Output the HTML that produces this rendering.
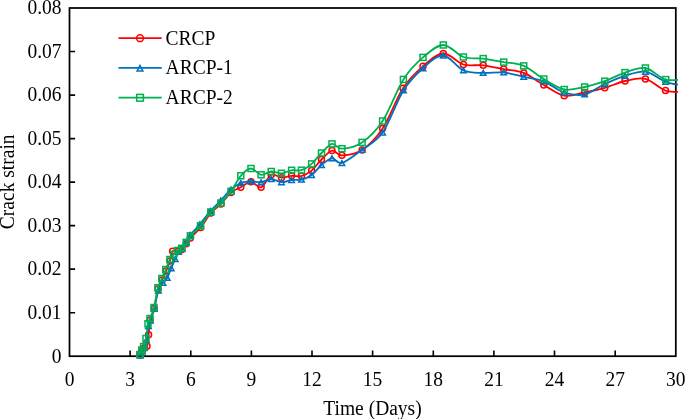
<!DOCTYPE html>
<html><head><meta charset="utf-8"><style>
html,body{margin:0;padding:0;background:#fff;width:685px;height:419px;overflow:hidden}
svg{display:block;font-family:"Liberation Serif",serif}
text{filter:grayscale(1)}
</style></head><body>
<svg width="685" height="419" viewBox="0 0 685 419">
<defs><clipPath id="c"><rect x="60" y="0" width="618" height="370"/></clipPath></defs>
<rect x="69.5" y="8" width="606.3" height="348.2" fill="none" stroke="#000" stroke-width="1.75"/>
<path d="M130.1,356.2V350.4M190.8,356.2V350.4M251.4,356.2V350.4M312.0,356.2V350.4M372.6,356.2V350.4M433.3,356.2V350.4M493.9,356.2V350.4M554.5,356.2V350.4M615.2,356.2V350.4M69.5,312.7H75.1M69.5,269.1H75.1M69.5,225.6H75.1M69.5,182.1H75.1M69.5,138.6H75.1M69.5,95.1H75.1M69.5,51.5H75.1" stroke="#000" stroke-width="1.6" fill="none"/>
<g font-family="Liberation Serif" font-size="19.5" fill="#000"><text transform="translate(69.5,386) scale(1,1.065)" text-anchor="middle">0</text><text transform="translate(130.1,386) scale(1,1.065)" text-anchor="middle">3</text><text transform="translate(190.8,386) scale(1,1.065)" text-anchor="middle">6</text><text transform="translate(251.4,386) scale(1,1.065)" text-anchor="middle">9</text><text transform="translate(312.0,386) scale(1,1.065)" text-anchor="middle">12</text><text transform="translate(372.6,386) scale(1,1.065)" text-anchor="middle">15</text><text transform="translate(433.3,386) scale(1,1.065)" text-anchor="middle">18</text><text transform="translate(493.9,386) scale(1,1.065)" text-anchor="middle">21</text><text transform="translate(554.5,386) scale(1,1.065)" text-anchor="middle">24</text><text transform="translate(615.2,386) scale(1,1.065)" text-anchor="middle">27</text><text transform="translate(675.8,386) scale(1,1.065)" text-anchor="middle">30</text><text transform="translate(61.5,362.5) scale(1,1.065)" text-anchor="end">0</text><text transform="translate(61.5,319.0) scale(1,1.065)" text-anchor="end">0.01</text><text transform="translate(61.5,275.4) scale(1,1.065)" text-anchor="end">0.02</text><text transform="translate(61.5,231.9) scale(1,1.065)" text-anchor="end">0.03</text><text transform="translate(61.5,188.4) scale(1,1.065)" text-anchor="end">0.04</text><text transform="translate(61.5,144.9) scale(1,1.065)" text-anchor="end">0.05</text><text transform="translate(61.5,101.4) scale(1,1.065)" text-anchor="end">0.06</text><text transform="translate(61.5,57.8) scale(1,1.065)" text-anchor="end">0.07</text><text transform="translate(61.5,14.3) scale(1,1.065)" text-anchor="end">0.08</text></g>
<text transform="translate(372.5,415) scale(1,1.065)" text-anchor="middle" font-family="Liberation Serif" font-size="19.5">Time (Days)</text>
<text transform="translate(14.2,181.8) rotate(-90) scale(1,1.065)" text-anchor="middle" font-family="Liberation Serif" font-size="19.5">Crack strain</text>
<g clip-path="url(#c)"><path d="M140.3,355.0 C140.6,354.3 141.5,352.2 142.2,351.0 C142.9,349.8 143.6,348.6 144.4,347.8 C145.2,347.0 146.3,348.5 147.0,346.3 C147.7,344.1 148.1,339.2 148.6,334.8 C149.1,330.4 149.3,324.4 150.2,320.0 C151.1,315.6 152.9,313.7 154.2,308.5 C155.5,303.3 156.7,293.8 158.0,289.0 C159.3,284.2 160.7,283.0 162.0,280.0 C163.3,277.0 164.7,274.2 166.0,271.0 C167.3,267.8 168.9,264.3 170.0,261.0 C171.1,257.7 171.3,252.8 172.6,251.2 C173.9,249.6 176.2,251.8 177.8,251.5 C179.4,251.2 180.5,250.8 181.9,249.5 C183.3,248.2 184.8,245.7 186.2,243.8 C187.6,241.9 188.0,240.7 190.4,238.0 C192.8,235.3 197.3,231.7 200.7,227.5 C204.1,223.3 207.5,216.9 210.9,213.0 C214.3,209.1 217.7,207.4 221.0,204.0 C224.3,200.6 227.7,195.3 231.0,192.5 C234.3,189.7 237.5,189.0 240.8,187.2 C244.1,185.4 247.6,181.8 251.0,181.8 C254.4,181.8 257.7,188.5 261.1,187.3 C264.5,186.1 267.8,176.4 271.2,174.8 C274.6,173.2 278.1,177.5 281.5,177.7 C284.9,177.9 288.3,176.1 291.6,175.8 C294.9,175.5 298.2,176.9 301.5,176.0 C304.8,175.1 308.3,173.3 311.6,170.6 C314.9,167.8 318.1,162.8 321.5,159.5 C324.9,156.2 328.6,151.3 332.0,150.6 C335.4,149.9 336.9,155.4 341.9,155.3 C346.9,155.2 355.3,154.4 362.1,150.0 C368.9,145.6 375.8,138.9 382.6,128.6 C389.4,118.3 396.3,98.6 403.0,88.2 C409.7,77.8 416.3,72.1 423.0,66.3 C429.7,60.5 436.6,53.8 443.3,53.5 C450.0,53.2 456.8,62.5 463.4,64.5 C470.0,66.5 476.5,64.5 483.2,65.3 C489.9,66.1 496.9,67.8 503.7,69.1 C510.4,70.4 517.0,70.2 523.7,72.9 C530.4,75.6 537.0,81.2 543.8,85.0 C550.5,88.8 557.4,94.5 564.2,95.7 C571.0,97.0 577.8,93.8 584.6,92.5 C591.4,91.2 598.1,89.7 604.8,87.8 C611.5,85.9 618.2,82.5 625.0,81.0 C631.8,79.5 638.6,77.3 645.4,78.9 C652.1,80.5 658.7,88.4 665.5,90.6 C672.3,92.8 682.6,91.6 686.0,91.8" fill="none" stroke="#ff0000" stroke-width="1.8"/><g fill="none" stroke="#ff0000" stroke-width="1.5"><circle cx="140.3" cy="355.0" r="3.0"/><circle cx="142.2" cy="351.0" r="3.0"/><circle cx="144.4" cy="347.8" r="3.0"/><circle cx="147.0" cy="346.3" r="3.0"/><circle cx="148.6" cy="334.8" r="3.0"/><circle cx="150.2" cy="320.0" r="3.0"/><circle cx="154.2" cy="308.5" r="3.0"/><circle cx="158.0" cy="289.0" r="3.0"/><circle cx="162.0" cy="280.0" r="3.0"/><circle cx="166.0" cy="271.0" r="3.0"/><circle cx="170.0" cy="261.0" r="3.0"/><circle cx="172.6" cy="251.2" r="3.0"/><circle cx="177.8" cy="251.5" r="3.0"/><circle cx="181.9" cy="249.5" r="3.0"/><circle cx="186.2" cy="243.8" r="3.0"/><circle cx="190.4" cy="238.0" r="3.0"/><circle cx="200.7" cy="227.5" r="3.0"/><circle cx="210.9" cy="213.0" r="3.0"/><circle cx="221.0" cy="204.0" r="3.0"/><circle cx="231.0" cy="192.5" r="3.0"/><circle cx="240.8" cy="187.2" r="3.0"/><circle cx="251.0" cy="181.8" r="3.0"/><circle cx="261.1" cy="187.3" r="3.0"/><circle cx="271.2" cy="174.8" r="3.0"/><circle cx="281.5" cy="177.7" r="3.0"/><circle cx="291.6" cy="175.8" r="3.0"/><circle cx="301.5" cy="176.0" r="3.0"/><circle cx="311.6" cy="170.6" r="3.0"/><circle cx="321.5" cy="159.5" r="3.0"/><circle cx="332.0" cy="150.6" r="3.0"/><circle cx="341.9" cy="155.3" r="3.0"/><circle cx="362.1" cy="150.0" r="3.0"/><circle cx="382.6" cy="128.6" r="3.0"/><circle cx="403.0" cy="88.2" r="3.0"/><circle cx="423.0" cy="66.3" r="3.0"/><circle cx="443.3" cy="53.5" r="3.0"/><circle cx="463.4" cy="64.5" r="3.0"/><circle cx="483.2" cy="65.3" r="3.0"/><circle cx="503.7" cy="69.1" r="3.0"/><circle cx="523.7" cy="72.9" r="3.0"/><circle cx="543.8" cy="85.0" r="3.0"/><circle cx="564.2" cy="95.7" r="3.0"/><circle cx="584.6" cy="92.5" r="3.0"/><circle cx="604.8" cy="87.8" r="3.0"/><circle cx="625.0" cy="81.0" r="3.0"/><circle cx="645.4" cy="78.9" r="3.0"/><circle cx="665.5" cy="90.6" r="3.0"/></g></g>
<g clip-path="url(#c)"><path d="M140.3,355.5 C140.6,354.8 141.7,352.8 142.3,351.5 C142.9,350.2 143.4,349.9 144.1,348.0 C144.8,346.1 145.8,343.7 146.5,340.0 C147.2,336.3 147.8,329.2 148.4,326.0 C149.1,322.8 149.4,323.4 150.4,320.5 C151.4,317.6 152.9,313.8 154.2,308.8 C155.5,303.8 156.9,294.8 158.4,290.5 C159.9,286.2 161.5,284.9 163.0,282.8 C164.5,280.7 165.8,280.2 167.2,277.8 C168.6,275.4 169.9,271.4 171.2,268.3 C172.5,265.2 174.0,261.8 175.2,259.0 C176.4,256.2 177.4,253.5 178.6,251.8 C179.8,250.1 180.9,250.4 182.2,248.8 C183.5,247.2 184.8,244.5 186.2,242.2 C187.5,239.9 188.0,238.0 190.3,235.0 C192.6,232.0 196.6,228.3 199.9,224.3 C203.2,220.3 206.9,215.0 210.4,211.0 C213.9,207.0 217.4,204.1 220.8,200.5 C224.2,196.9 227.7,192.4 231.0,189.5 C234.3,186.6 237.5,184.4 240.8,183.0 C244.1,181.6 247.6,181.4 251.0,181.3 C254.4,181.2 257.7,182.6 261.1,182.2 C264.5,181.8 267.8,179.0 271.2,179.0 C274.6,179.0 278.1,182.0 281.5,182.2 C284.9,182.4 288.3,180.4 291.6,180.0 C294.9,179.6 298.2,180.4 301.5,179.6 C304.8,178.8 308.3,177.4 311.6,175.0 C314.9,172.6 318.1,167.8 321.5,165.0 C324.9,162.2 328.6,158.6 332.0,158.3 C335.4,158.0 336.9,164.4 341.9,163.0 C346.9,161.6 355.3,154.8 362.1,149.7 C368.9,144.6 375.7,142.5 382.6,132.6 C389.5,122.7 396.7,101.1 403.4,90.4 C410.1,79.7 416.4,74.0 423.0,68.2 C429.6,62.4 436.6,55.1 443.3,55.5 C450.0,55.9 456.8,67.5 463.4,70.4 C470.0,73.3 476.5,72.6 483.2,72.9 C489.9,73.2 496.9,71.8 503.7,72.4 C510.4,73.1 517.0,75.3 523.7,76.8 C530.4,78.3 537.0,78.7 543.8,81.3 C550.5,83.9 557.4,90.3 564.2,92.5 C571.0,94.7 577.8,95.8 584.6,94.4 C591.4,93.0 598.1,87.1 604.8,84.0 C611.5,80.9 618.2,77.8 625.0,75.8 C631.8,73.8 638.6,70.7 645.4,71.7 C652.2,72.7 658.9,79.4 665.7,81.8 C672.5,84.2 682.6,85.3 686.0,86.0" fill="none" stroke="#0070c0" stroke-width="1.8"/><g fill="none" stroke="#0070c0" stroke-width="1.5"><path d="M140.30,353.05 L143.05,357.95 L137.55,357.95 Z"/><path d="M142.30,349.05 L145.05,353.95 L139.55,353.95 Z"/><path d="M144.10,345.55 L146.85,350.45 L141.35,350.45 Z"/><path d="M146.50,337.55 L149.25,342.45 L143.75,342.45 Z"/><path d="M148.40,323.55 L151.15,328.45 L145.65,328.45 Z"/><path d="M150.40,318.05 L153.15,322.95 L147.65,322.95 Z"/><path d="M154.20,306.35 L156.95,311.25 L151.45,311.25 Z"/><path d="M158.40,288.05 L161.15,292.95 L155.65,292.95 Z"/><path d="M163.00,280.35 L165.75,285.25 L160.25,285.25 Z"/><path d="M167.20,275.35 L169.95,280.25 L164.45,280.25 Z"/><path d="M171.20,265.85 L173.95,270.75 L168.45,270.75 Z"/><path d="M175.20,256.55 L177.95,261.45 L172.45,261.45 Z"/><path d="M178.60,249.35 L181.35,254.25 L175.85,254.25 Z"/><path d="M182.20,246.35 L184.95,251.25 L179.45,251.25 Z"/><path d="M186.20,239.75 L188.95,244.65 L183.45,244.65 Z"/><path d="M190.30,232.55 L193.05,237.45 L187.55,237.45 Z"/><path d="M199.90,221.85 L202.65,226.75 L197.15,226.75 Z"/><path d="M210.40,208.55 L213.15,213.45 L207.65,213.45 Z"/><path d="M220.80,198.05 L223.55,202.95 L218.05,202.95 Z"/><path d="M231.00,187.05 L233.75,191.95 L228.25,191.95 Z"/><path d="M240.80,180.55 L243.55,185.45 L238.05,185.45 Z"/><path d="M251.00,178.85 L253.75,183.75 L248.25,183.75 Z"/><path d="M261.10,179.75 L263.85,184.65 L258.35,184.65 Z"/><path d="M271.20,176.55 L273.95,181.45 L268.45,181.45 Z"/><path d="M281.50,179.75 L284.25,184.65 L278.75,184.65 Z"/><path d="M291.60,177.55 L294.35,182.45 L288.85,182.45 Z"/><path d="M301.50,177.15 L304.25,182.05 L298.75,182.05 Z"/><path d="M311.60,172.55 L314.35,177.45 L308.85,177.45 Z"/><path d="M321.50,162.55 L324.25,167.45 L318.75,167.45 Z"/><path d="M332.00,155.85 L334.75,160.75 L329.25,160.75 Z"/><path d="M341.90,160.55 L344.65,165.45 L339.15,165.45 Z"/><path d="M362.10,147.25 L364.85,152.15 L359.35,152.15 Z"/><path d="M382.60,130.15 L385.35,135.05 L379.85,135.05 Z"/><path d="M403.40,87.95 L406.15,92.85 L400.65,92.85 Z"/><path d="M423.00,65.75 L425.75,70.65 L420.25,70.65 Z"/><path d="M443.30,53.05 L446.05,57.95 L440.55,57.95 Z"/><path d="M463.40,67.95 L466.15,72.85 L460.65,72.85 Z"/><path d="M483.20,70.45 L485.95,75.35 L480.45,75.35 Z"/><path d="M503.70,69.95 L506.45,74.85 L500.95,74.85 Z"/><path d="M523.70,74.35 L526.45,79.25 L520.95,79.25 Z"/><path d="M543.80,78.85 L546.55,83.75 L541.05,83.75 Z"/><path d="M564.20,90.05 L566.95,94.95 L561.45,94.95 Z"/><path d="M584.60,91.95 L587.35,96.85 L581.85,96.85 Z"/><path d="M604.80,81.55 L607.55,86.45 L602.05,86.45 Z"/><path d="M625.00,73.35 L627.75,78.25 L622.25,78.25 Z"/><path d="M645.40,69.25 L648.15,74.15 L642.65,74.15 Z"/><path d="M665.70,79.35 L668.45,84.25 L662.95,84.25 Z"/></g></g>
<g clip-path="url(#c)"><path d="M139.8,354.5 C140.1,353.8 141.2,351.3 141.8,350.0 C142.4,348.7 142.9,348.4 143.6,346.5 C144.3,344.6 145.3,342.3 146.0,338.5 C146.7,334.7 147.3,327.1 148.0,323.8 C148.7,320.5 149.0,321.2 150.0,318.5 C151.0,315.8 152.7,312.6 154.0,307.5 C155.3,302.4 156.6,292.5 157.9,287.7 C159.2,282.9 160.5,281.5 161.8,278.5 C163.1,275.5 164.5,272.7 165.8,269.5 C167.2,266.3 168.6,262.0 169.9,259.5 C171.2,257.0 172.4,256.0 173.7,254.5 C175.0,253.0 176.3,251.5 177.6,250.5 C178.9,249.5 180.2,249.7 181.6,248.3 C183.0,247.0 184.7,244.5 186.2,242.4 C187.7,240.3 188.0,238.6 190.4,235.8 C192.8,233.0 197.1,229.8 200.5,225.8 C203.9,221.8 207.4,215.8 210.8,212.0 C214.2,208.2 217.5,206.4 220.9,203.0 C224.3,199.6 227.7,195.8 231.0,191.3 C234.3,186.8 237.5,179.6 240.8,175.8 C244.1,172.0 247.6,168.7 251.0,168.5 C254.4,168.3 257.7,174.3 261.1,174.8 C264.5,175.3 267.8,171.8 271.2,171.5 C274.6,171.2 278.1,173.5 281.5,173.3 C284.9,173.1 288.3,170.8 291.6,170.3 C294.9,169.8 298.2,171.3 301.5,170.2 C304.8,169.1 308.3,166.8 311.6,163.9 C314.9,161.0 318.1,156.3 321.5,153.0 C324.9,149.7 328.6,144.6 332.0,143.9 C335.4,143.2 336.9,148.9 341.9,148.7 C346.9,148.4 355.3,147.0 362.1,142.4 C368.9,137.8 375.7,131.5 382.6,121.0 C389.5,110.5 396.7,90.0 403.4,79.4 C410.1,68.8 416.4,63.1 423.0,57.4 C429.6,51.7 436.6,45.1 443.3,45.0 C450.0,44.9 456.8,54.7 463.4,57.0 C470.0,59.3 476.5,57.8 483.2,58.6 C489.9,59.5 496.9,60.9 503.7,62.1 C510.4,63.3 517.0,63.1 523.7,65.9 C530.4,68.7 537.0,75.1 543.8,79.0 C550.5,82.9 557.4,88.2 564.2,89.5 C571.0,90.8 577.8,88.4 584.6,87.0 C591.4,85.6 598.1,83.6 604.8,81.2 C611.5,78.8 618.2,74.8 625.0,72.6 C631.8,70.4 638.6,66.8 645.4,68.0 C652.2,69.2 658.9,77.8 665.7,79.6 C672.5,81.4 682.6,78.9 686.0,78.8" fill="none" stroke="#00b050" stroke-width="1.8"/><g fill="none" stroke="#00b050" stroke-width="1.5"><rect x="136.8" y="351.5" width="6.0" height="6.0"/><rect x="138.8" y="347.0" width="6.0" height="6.0"/><rect x="140.6" y="343.5" width="6.0" height="6.0"/><rect x="143.0" y="335.5" width="6.0" height="6.0"/><rect x="145.0" y="320.8" width="6.0" height="6.0"/><rect x="147.0" y="315.5" width="6.0" height="6.0"/><rect x="151.0" y="304.5" width="6.0" height="6.0"/><rect x="154.9" y="284.7" width="6.0" height="6.0"/><rect x="158.8" y="275.5" width="6.0" height="6.0"/><rect x="162.8" y="266.5" width="6.0" height="6.0"/><rect x="166.9" y="256.5" width="6.0" height="6.0"/><rect x="170.7" y="251.5" width="6.0" height="6.0"/><rect x="174.6" y="247.5" width="6.0" height="6.0"/><rect x="178.6" y="245.3" width="6.0" height="6.0"/><rect x="183.2" y="239.4" width="6.0" height="6.0"/><rect x="187.4" y="232.8" width="6.0" height="6.0"/><rect x="197.5" y="222.8" width="6.0" height="6.0"/><rect x="207.8" y="209.0" width="6.0" height="6.0"/><rect x="217.9" y="200.0" width="6.0" height="6.0"/><rect x="228.0" y="188.3" width="6.0" height="6.0"/><rect x="237.8" y="172.8" width="6.0" height="6.0"/><rect x="248.0" y="165.5" width="6.0" height="6.0"/><rect x="258.1" y="171.8" width="6.0" height="6.0"/><rect x="268.2" y="168.5" width="6.0" height="6.0"/><rect x="278.5" y="170.3" width="6.0" height="6.0"/><rect x="288.6" y="167.3" width="6.0" height="6.0"/><rect x="298.5" y="167.2" width="6.0" height="6.0"/><rect x="308.6" y="160.9" width="6.0" height="6.0"/><rect x="318.5" y="150.0" width="6.0" height="6.0"/><rect x="329.0" y="140.9" width="6.0" height="6.0"/><rect x="338.9" y="145.7" width="6.0" height="6.0"/><rect x="359.1" y="139.4" width="6.0" height="6.0"/><rect x="379.6" y="118.0" width="6.0" height="6.0"/><rect x="400.4" y="76.4" width="6.0" height="6.0"/><rect x="420.0" y="54.4" width="6.0" height="6.0"/><rect x="440.3" y="42.0" width="6.0" height="6.0"/><rect x="460.4" y="54.0" width="6.0" height="6.0"/><rect x="480.2" y="55.6" width="6.0" height="6.0"/><rect x="500.7" y="59.1" width="6.0" height="6.0"/><rect x="520.7" y="62.9" width="6.0" height="6.0"/><rect x="540.8" y="76.0" width="6.0" height="6.0"/><rect x="561.2" y="86.5" width="6.0" height="6.0"/><rect x="581.6" y="84.0" width="6.0" height="6.0"/><rect x="601.8" y="78.2" width="6.0" height="6.0"/><rect x="622.0" y="69.6" width="6.0" height="6.0"/><rect x="642.4" y="65.0" width="6.0" height="6.0"/><rect x="662.7" y="76.6" width="6.0" height="6.0"/></g></g>
<path d="M118.5,38.2H161.7" stroke="#ff0000" stroke-width="1.7"/><g fill="none" stroke="#ff0000" stroke-width="1.5"><circle cx="140.0" cy="38.2" r="3.4"/></g><text transform="translate(165.6,44.7) scale(1,1.065)" font-family="Liberation Serif" font-size="19.5">CRCP</text><path d="M118.5,67.9H161.7" stroke="#0070c0" stroke-width="1.7"/><g fill="none" stroke="#0070c0" stroke-width="1.5"><path d="M140.00,65.50 L142.90,71.10 L137.10,71.10 Z"/></g><text transform="translate(165.6,74.4) scale(1,1.065)" font-family="Liberation Serif" font-size="19.5">ARCP-1</text><path d="M118.5,97.7H161.7" stroke="#00b050" stroke-width="1.7"/><g fill="none" stroke="#00b050" stroke-width="1.5"><rect x="136.7" y="94.4" width="6.7" height="6.7"/></g><text transform="translate(165.6,104.2) scale(1,1.065)" font-family="Liberation Serif" font-size="19.5">ARCP-2</text>
</svg>
</body></html>
